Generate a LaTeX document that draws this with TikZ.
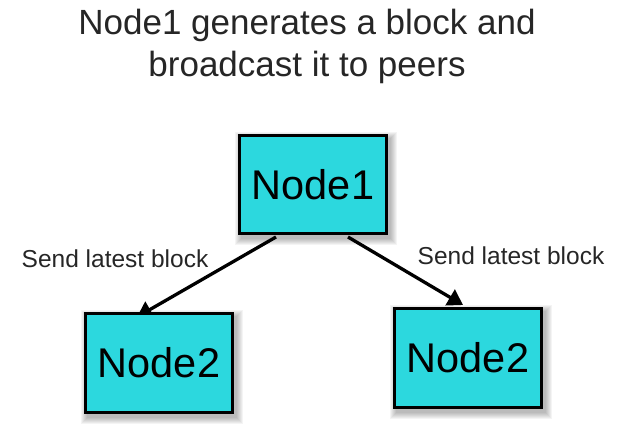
\documentclass[tikz,border=0pt]{standalone}
\usepackage{fontspec}
\setmainfont{Liberation Sans}
\usetikzlibrary{backgrounds,arrows.meta}
\definecolor{boxcyan}{RGB}{44,216,222}
\begin{document}
\begin{tikzpicture}[x=1pt,y=-1pt,
  nodebox/.style={draw=black,line width=3pt,fill=boxcyan,minimum width=147pt,minimum height=98pt,inner sep=0pt,
    font=\fontsize{41.5}{44}\selectfont},
  lbl/.style={font=\fontsize{24.5}{28}\selectfont,text=black!85,inner sep=0pt},
  conn/.style={line width=3.3pt,-{Triangle[length=15pt,width=18pt]}},
  softshadow/.style={fill=black,opacity=0.045}]
\useasboundingbox (0,0) rectangle (624,438);
\node[font=\fontsize{35}{42}\selectfont,align=center,text=black!85,inner sep=0pt] (title) at (307,46) {Node1 generates a block and\\broadcast it to peers};
\node[nodebox] (n1) at (313,185) {Node1};
\node[nodebox] (n2a) at (159,363) {Node2};
\node[nodebox] (n2b) at (468,358) {Node2};
\coordinate (s1) at (276,237);
\coordinate (s2) at (348,237);
\coordinate (e1) at (137,317);
\coordinate (e2) at (463,305);
\begin{scope}[on background layer]
  \foreach \n in {n1,n2a,n2b}{
    \foreach \k in {0,1,...,6}{
      \fill[softshadow] ([shift={(3-\k,4-\k)}]\n.north west) rectangle ([shift={(3+\k,4+\k)}]\n.south east);
    }
  }
  \draw[conn] (s1) -- (e1);
  \draw[conn] (s2) -- (e2);
\end{scope}
\node[lbl] (l1) at (115,259) {Send latest block};
\node[lbl] (l2) at (511,256) {Send latest block};
\end{tikzpicture}
\end{document}
